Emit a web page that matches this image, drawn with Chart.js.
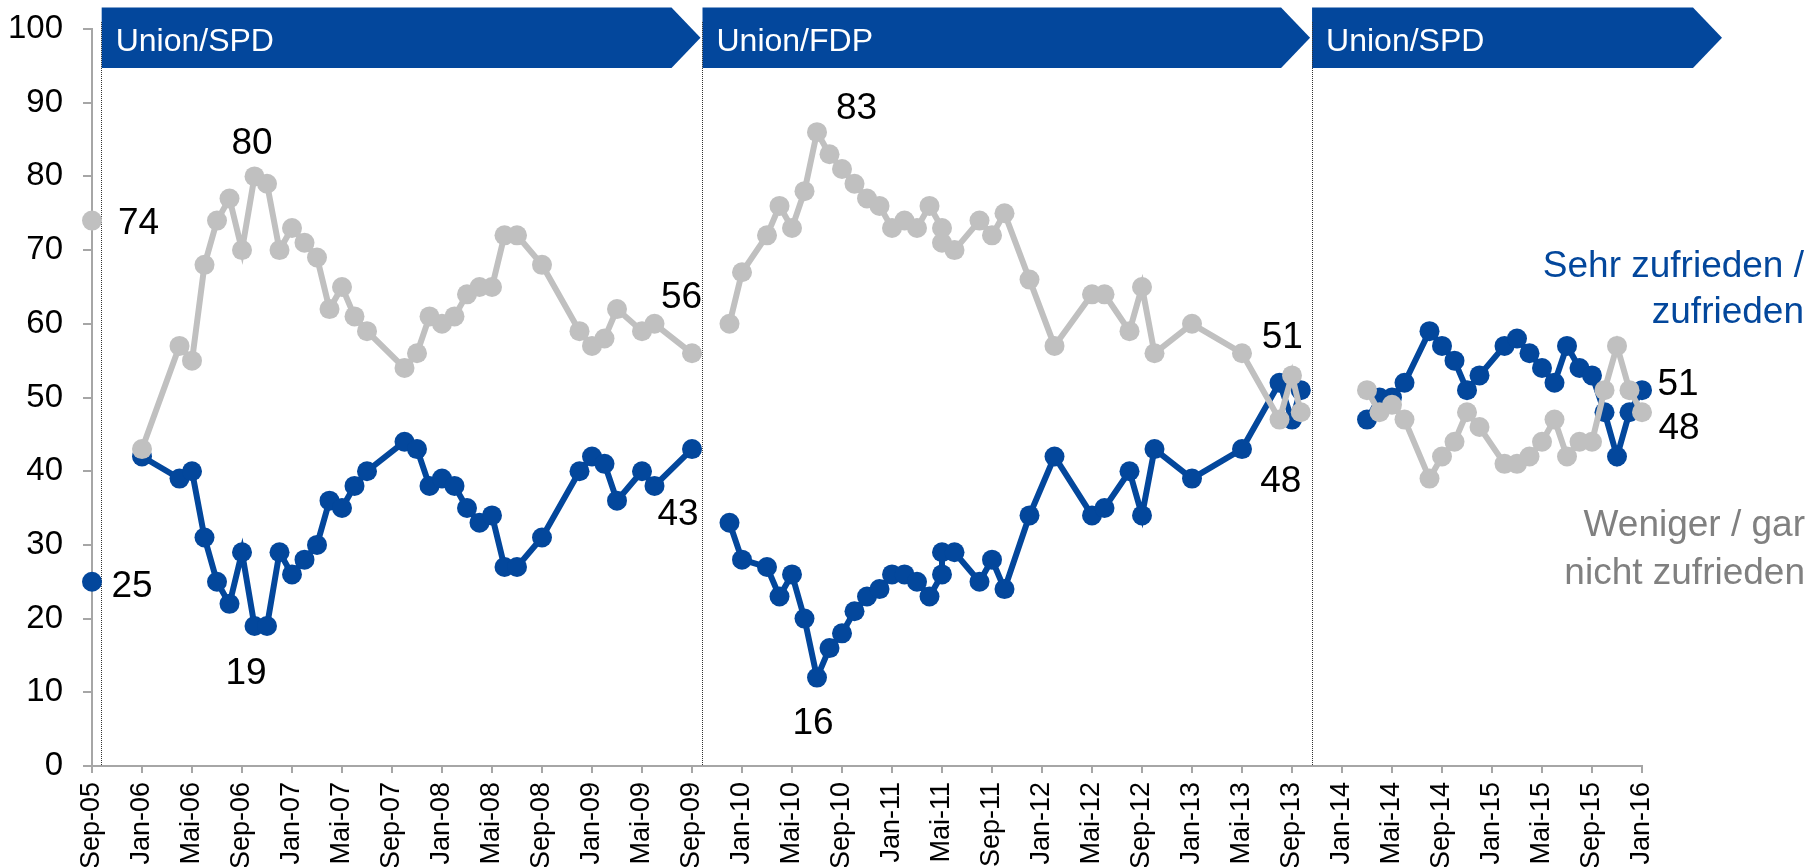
<!DOCTYPE html>
<html>
<head>
<meta charset="utf-8">
<script src="https://cdn.jsdelivr.net/npm/chart.js@4.4.1/dist/chart.umd.min.js"></script>
<style>
  html, body { margin: 0; padding: 0; background: #ffffff; }
  canvas { display: block; }
</style>
</head>
<body>
<canvas id="chart" width="1810" height="867"></canvas>
<script>
// ---------------- DATA ----------------
const surveyDates = [
  "2005-09","2006-01","2006-04","2006-05","2006-06","2006-07","2006-08","2006-09","2006-10","2006-11","2006-12",
  "2007-01","2007-02","2007-03","2007-04","2007-05","2007-06","2007-07","2007-10","2007-11","2007-12",
  "2008-01","2008-02","2008-03","2008-04","2008-05","2008-06","2008-07","2008-09","2008-12",
  "2009-01","2009-02","2009-03","2009-05","2009-06","2009-09",
  "2009-12","2010-01","2010-03","2010-04","2010-05","2010-06","2010-07","2010-08","2010-09","2010-10","2010-11","2010-12",
  "2011-01","2011-02","2011-03","2011-04","2011-05","2011-05","2011-06","2011-08","2011-09","2011-10","2011-12",
  "2012-02","2012-05","2012-06","2012-08","2012-09","2012-10",
  "2013-01","2013-05","2013-08","2013-09","2013-09-22",
  "2014-03","2014-04","2014-05","2014-06","2014-08","2014-09","2014-10","2014-11","2014-12",
  "2015-02","2015-03","2015-04","2015-05","2015-06","2015-07","2015-08","2015-09","2015-10","2015-11","2015-12",
  "2016-01"
];

// Sehr zufrieden / zufrieden (%)
const zufrieden = [
  25, 42, 39, 40, 31, 25, 22, 29, 19, 19, 29,
  26, 28, 30, 36, 35, 38, 40, 44, 43, 38,
  39, 38, 35, 33, 34, 27, 27, 31, 40,
  42, 41, 36, 40, 38, 43,
  33, 28, 27, 23, 26, 20, 12, 16, 18, 21, 23, 24,
  26, 26, 25, 23, 26, 29, 29, 25, 28, 24, 34,
  42, 34, 35, 40, 34, 43,
  39, 43, 52, 47, 51,
  47, 50, 50, 52, 59, 57, 55, 51, 53,
  57, 58, 56, 54, 52, 57, 54, 53, 48, 42, 48,
  51
];

// Weniger / gar nicht zufrieden (%)
const nichtZufrieden = [
  74, 43, 57, 55, 68, 74, 77, 70, 80, 79, 70,
  73, 71, 69, 62, 65, 61, 59, 54, 56, 61,
  60, 61, 64, 65, 65, 72, 72, 68, 59,
  57, 58, 62, 59, 60, 56,
  60, 67, 72, 76, 73, 78, 86, 83, 81, 79, 77, 76,
  73, 74, 73, 76, 73, 71, 70, 74, 72, 75, 66,
  57, 64, 64, 59, 65, 56,
  60, 56, 47, 53, 48,
  51, 48, 49, 47, 39, 42, 44, 48, 46,
  41, 41, 42, 44, 47, 42, 44, 44, 51, 57, 51,
  48
];

const xTickLabels = [
  "Sep-05","Jan-06","Mai-06","Sep-06","Jan-07","Mai-07","Sep-07","Jan-08","Mai-08","Sep-08",
  "Jan-09","Mai-09","Sep-09","Jan-10","Mai-10","Sep-10","Jan-11","Mai-11","Sep-11","Jan-12",
  "Mai-12","Sep-12","Jan-13","Mai-13","Sep-13","Jan-14","Mai-14","Sep-14","Jan-15","Mai-15",
  "Sep-15","Jan-16"
];
const yTickValues = [0, 10, 20, 30, 40, 50, 60, 70, 80, 90, 100];

const governments = ["Union/SPD", "Union/FDP", "Union/SPD"];
const governmentStarts = ["2005-09-23", "2009-09-25", "2013-10-18"];

const seriesNames = {
  zufrieden: ["Sehr zufrieden /", "zufrieden"],
  nichtZufrieden: ["Weniger / gar", "nicht zufrieden"]
};

// value call-outs: text, series, survey date
const valueLabelTexts  = ["74", "25", "80", "19", "56", "43", "83", "16", "51", "48", "51", "48"];
const valueLabelSeries = ["nichtZufrieden","zufrieden","nichtZufrieden","zufrieden","nichtZufrieden","zufrieden",
                          "nichtZufrieden","zufrieden","zufrieden","nichtZufrieden","zufrieden","nichtZufrieden"];
const valueLabelDates  = ["2005-09","2005-09","2006-10","2006-10","2009-09","2009-09",
                          "2010-07","2010-07","2013-09-22","2013-09-22","2016-01","2016-01"];

// ---------------- STYLE / LAYOUT ----------------
const FONT = "'Liberation Sans', Arial, sans-serif";
const BLUE = "#03479C";
const GRAY = "#C0C0C0";
const GRAY_TEXT = "#808080";
const AXIS = "#A6A6A6";

// pixel offsets of call-outs from their anchor point [dx, dy(baseline), align]
const valueLabelLayout = [
  [26, 13, "left"], [19.5, 15, "left"], [-2.5, -22.5, "center"], [-8.5, 58, "center"],
  [-10.5, -45, "center"], [-14, 75.5, "center"], [39.5, -13, "center"], [-4, 56, "center"],
  [-18.5, -42, "center"], [-20, 80, "center"], [15.5, 5, "left"], [16.5, 26.5, "left"]
];

Chart.defaults.font.family = FONT;

function monthIndex(s) {
  const p = s.split("-").map(Number);
  const day = p.length > 2 ? (p[2] - 1) / 30 : 0;
  return (p[0] - 2005) * 12 + (p[1] - 9) + day;
}
const monthNames = { Jan: 1, Feb: 2, "Mär": 3, Apr: 4, Mai: 5, Jun: 6, Jul: 7, Aug: 8, Sep: 9, Okt: 10, Nov: 11, Dez: 12 };
function tickValue(label) {
  const [m, yy] = label.split("-");
  return (2000 + Number(yy) - 2005) * 12 + (monthNames[m] - 9);
}
const xTickValues = xTickLabels.map(tickValue);
const govStartIdx = governmentStarts.map(monthIndex);

function periodOf(x) {
  let k = -1;
  govStartIdx.forEach((s, i) => { if (x >= s) k = i; });
  return k;
}

function buildSeries(values) {
  const out = [];
  let prev = null;
  surveyDates.forEach((d, i) => {
    const x = monthIndex(d);
    const p = periodOf(x);
    if (prev !== null && p !== prev) {
      out.push({ x: govStartIdx[p], y: null });
    }
    out.push({ x: x, y: values[i] });
    prev = p;
  });
  return out;
}

const seriesValues = { zufrieden, nichtZufrieden };

const decor = {
  id: "decor",
  beforeDatasetsDraw(chart) {
    const { ctx, chartArea, scales } = chart;
    const xs = scales.x;
    const top = 7.5, bottom = 68, mid = (top + bottom) / 2, arrow = 29;
    ctx.save();
    governments.forEach((name, i) => {
      const start = xs.getPixelForValue(govStartIdx[i]) + 0.5;
      const end = i < governments.length - 1
        ? xs.getPixelForValue(govStartIdx[i + 1]) - 1.5
        : chartArea.right + 80;
      ctx.beginPath();
      ctx.moveTo(start, top);
      ctx.lineTo(end - arrow, top);
      ctx.lineTo(end, mid);
      ctx.lineTo(end - arrow, bottom);
      ctx.lineTo(start, bottom);
      ctx.closePath();
      ctx.fillStyle = BLUE;
      ctx.fill();
      ctx.fillStyle = "#ffffff";
      ctx.font = "32px " + FONT;
      ctx.textAlign = "left";
      ctx.textBaseline = "alphabetic";
      ctx.fillText(name, start + 14, 50.5);
    });
    // dotted separators
    ctx.strokeStyle = "#333333";
    ctx.lineWidth = 1;
    ctx.setLineDash([1, 1]);
    govStartIdx.forEach(v => {
      const px = Math.round(xs.getPixelForValue(v)) + 0.5;
      ctx.beginPath();
      ctx.moveTo(px, 22);
      ctx.lineTo(px, chartArea.bottom);
      ctx.stroke();
    });
    ctx.restore();
  },
  afterDatasetsDraw(chart) {
    const { ctx, scales } = chart;
    const xs = scales.x, ys = scales.y;
    ctx.save();
    ctx.font = "37px " + FONT;
    ctx.fillStyle = "#000000";
    ctx.textBaseline = "alphabetic";
    valueLabelTexts.forEach((t, i) => {
      const idx = surveyDates.indexOf(valueLabelDates[i]);
      const val = seriesValues[valueLabelSeries[i]][idx];
      const px = xs.getPixelForValue(monthIndex(valueLabelDates[i]));
      const py = ys.getPixelForValue(val);
      const [dx, dy, align] = valueLabelLayout[i];
      ctx.textAlign = align;
      ctx.fillText(t, px + dx, py + dy);
    });
    // series names
    ctx.textAlign = "right";
    ctx.fillStyle = BLUE;
    ctx.fillText(seriesNames.zufrieden[0], 1804, 277);
    ctx.fillText(seriesNames.zufrieden[1], 1804, 323);
    ctx.fillStyle = GRAY_TEXT;
    ctx.fillText(seriesNames.nichtZufrieden[0], 1805, 536);
    ctx.fillText(seriesNames.nichtZufrieden[1], 1805, 584);
    ctx.restore();
  }
};

const lineStyle = (color) => ({
  borderColor: color,
  backgroundColor: color,
  pointBackgroundColor: color,
  pointBorderColor: color,
  borderWidth: 6,
  pointRadius: 10,
  pointHoverRadius: 10,
  pointBorderWidth: 0,
  tension: 0,
  spanGaps: false,
  clip: false
});

new Chart(document.getElementById("chart"), {
  type: "line",
  data: {
    datasets: [
      Object.assign({ label: seriesNames.nichtZufrieden.join(" "), data: buildSeries(nichtZufrieden) }, lineStyle(GRAY)),
      Object.assign({ label: seriesNames.zufrieden.join(" "), data: buildSeries(zufrieden) }, lineStyle(BLUE))
    ]
  },
  options: {
    responsive: false,
    animation: false,
    devicePixelRatio: 1,
    events: [],
    layout: { padding: { left: 0, top: 29, right: 168, bottom: 0 } },
    plugins: { legend: { display: false }, tooltip: { enabled: false } },
    scales: {
      x: {
        type: "linear",
        min: xTickValues[0],
        max: xTickValues[xTickValues.length - 1],
        afterBuildTicks: s => { s.ticks = xTickValues.map(v => ({ value: v })); },
        afterFit: s => { s.height = 101; s.paddingLeft = 0; s.paddingRight = 0; },
        ticks: {
          autoSkip: false, minRotation: 90, maxRotation: 90,
          font: { size: 27, family: FONT }, color: "#000000", padding: 9,
          callback: (v, i) => xTickLabels[i]
        },
        grid: { display: true, drawOnChartArea: false, drawTicks: true, tickLength: 7, color: AXIS, lineWidth: 2 },
        border: { display: true, color: AXIS, width: 2 }
      },
      y: {
        min: yTickValues[0],
        max: yTickValues[yTickValues.length - 1],
        afterBuildTicks: s => { s.ticks = yTickValues.map(v => ({ value: v })); },
        afterFit: s => { s.width = 92; s.paddingTop = 0; s.paddingBottom = 0; },
        ticks: { font: { size: 33, family: FONT }, color: "#000000", padding: 20 },
        grid: { display: true, drawOnChartArea: false, drawTicks: true, tickLength: 9, color: AXIS, lineWidth: 2 },
        border: { display: true, color: AXIS, width: 2 }
      }
    }
  },
  plugins: [decor]
});
</script>
</body>
</html>
